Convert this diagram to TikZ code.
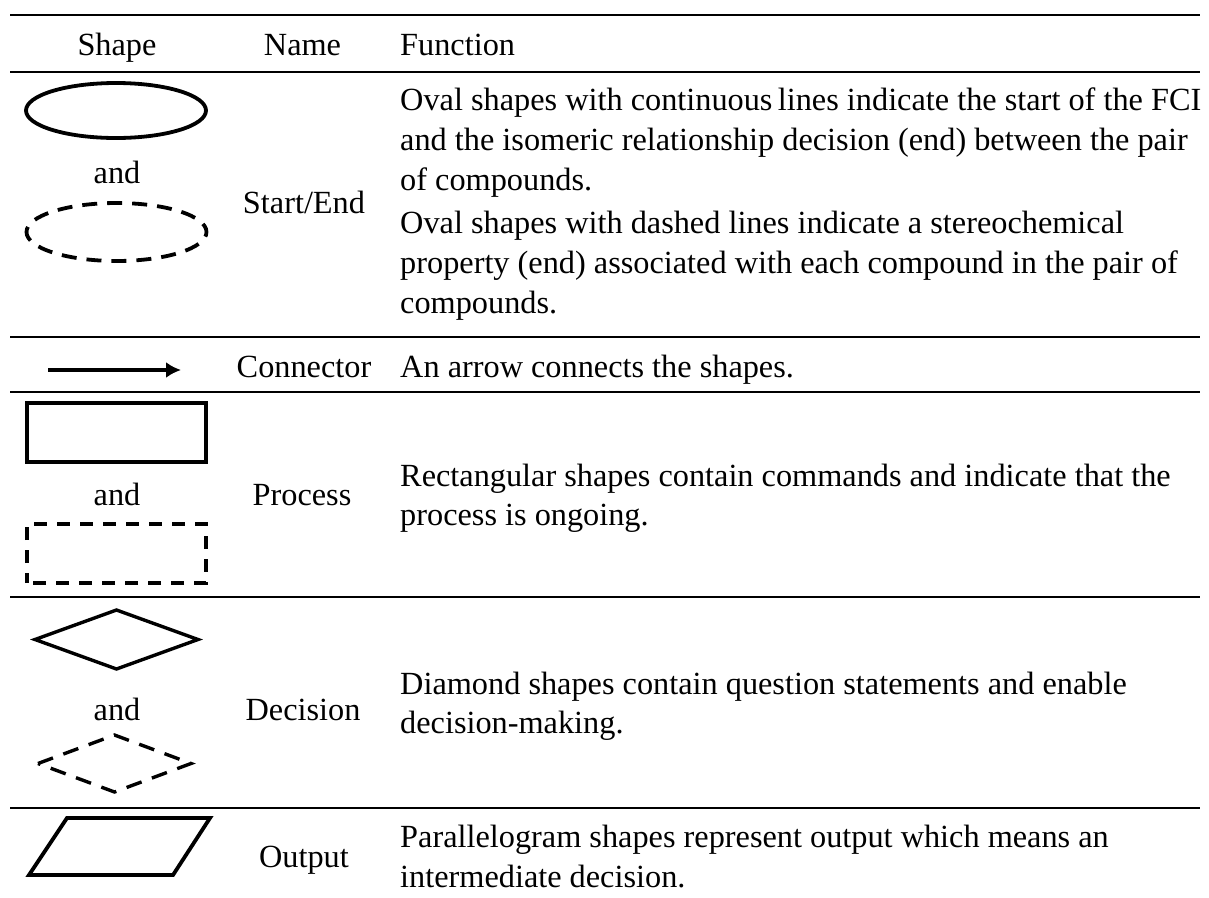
\documentclass[tikz,border=0pt]{standalone}
\usepackage{fontspec}
\setmainfont{Liberation Serif}
\usetikzlibrary{arrows.meta}
\tikzset{
  x=1pt, y=-1pt,
  txt/.style={inner sep=0pt, font=\fontsize{32.3}{40}\selectfont},
  ftxt/.style={txt, anchor=base west},
  ctxt/.style={txt, anchor=base},
  rule/.style={line width=2.6pt},
  shp/.style={line width=3.8pt},
  dshp/.style={line width=3.8pt, dash pattern=on 15pt off 10pt},
}
\begin{document}
\begin{tikzpicture}
\useasboundingbox[fill=white] (0,0) rectangle (1209,897);
% rules
\coordinate (r0l) at (10,15);  \coordinate (r0r) at (1200,15);
\coordinate (r1l) at (10,72);  \coordinate (r1r) at (1200,72);
\coordinate (r2l) at (10,337); \coordinate (r2r) at (1200,337);
\coordinate (r3l) at (10,392); \coordinate (r3r) at (1200,392);
\coordinate (r4l) at (10,597); \coordinate (r4r) at (1200,597);
\coordinate (r5l) at (10,808); \coordinate (r5r) at (1200,808);
\draw[rule] (r0l) -- (r0r);
\draw[rule] (r1l) -- (r1r);
\draw[rule] (r2l) -- (r2r);
\draw[rule] (r3l) -- (r3r);
\draw[rule] (r4l) -- (r4r);
\draw[rule] (r5l) -- (r5r);
% header
\node[ctxt] (hShape) at (117,55) {Shape};
\node[ctxt] (hName) at (302.5,55) {Name};
\node[ftxt] (hFunc) at (400,55) {Function};
% row 1: start/end
\draw[shp] (116,110.5) ellipse [x radius=90pt, y radius=27.5pt];
\node[ctxt] (and1) at (117,183) {and};
\draw[dshp, dash phase=6pt] (116.5,232) ellipse [x radius=90pt, y radius=29pt];
\node[ctxt] (nStart) at (304,213) {Start/End};
\node[ftxt] (f1a) at (400,110) {Oval shapes with continuous\,lines indicate the start of the FCI};
\node[ftxt] (f1b) at (400,150) {and the isomeric relationship decision (end) between the pair};
\node[ftxt] (f1c) at (400,190) {of compounds.};
\node[ftxt] (f1d) at (400,233) {Oval shapes with dashed lines indicate a stereochemical};
\node[ftxt] (f1e) at (400,273) {property (end) associated with each compound in the pair of};
\node[ftxt] (f1f) at (400,313) {compounds.};
% row 2: connector
\coordinate (ca) at (48,370);
\coordinate (cb) at (181,370);
\draw[line width=3.4pt, -{Latex[length=15pt,width=16pt]}] (ca) -- (cb);
\node[ctxt] (nConn) at (304,377) {Connector};
\node[ftxt] (f2a) at (400,377) {An arrow connects the shapes.};
% row 3: process
\draw[shp] (27,403) rectangle (206,462);
\node[ctxt] (and3) at (117,505) {and};
\draw[line width=3.8pt, dash pattern=on 13pt off 10pt, dash phase=3pt] (27,583) -- (27,524) -- (206,524) -- (206,583) -- cycle;
\node[ctxt] (nProc) at (302,505) {Process};
\node[ftxt] (f3a) at (400,486) {Rectangular shapes contain commands and indicate that the};
\node[ftxt] (f3b) at (400,525) {process is ongoing.};
% row 4: decision
\draw[line width=3.4pt, line join=miter] (35,639.5) -- (116.5,610) -- (198,639.5) -- (116.5,669) -- cycle;
\node[ctxt] (and4) at (117,720) {and};
\draw[line width=3.4pt, dash pattern=on 16pt off 11pt] (38,763.5) -- (114.5,735) -- (191,763.5) -- (114.5,792) -- cycle;
\node[ctxt] (nDec) at (303,720) {Decision};
\node[ftxt] (f4a) at (400,694) {Diamond shapes contain question statements and enable};
\node[ftxt] (f4b) at (400,733) {decision-making.};
% row 5: output
\draw[shp, line join=miter] (67,818) -- (210,818) -- (173,875) -- (29,875) -- cycle;
\node[ctxt] (nOut) at (304,867) {Output};
\node[ftxt] (f5a) at (400,847) {Parallelogram shapes represent output which means an};
\node[ftxt] (f5b) at (400,887) {intermediate decision.};
\end{tikzpicture}
\end{document}
